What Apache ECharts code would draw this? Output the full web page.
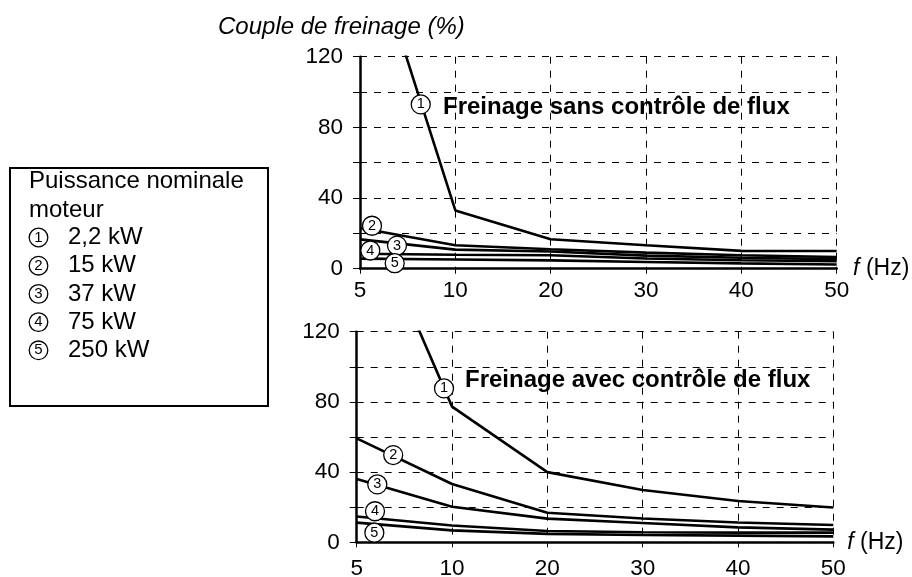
<!DOCTYPE html>
<html>
<head>
<meta charset="utf-8">
<script src="https://cdn.jsdelivr.net/npm/echarts@6/dist/echarts.min.js"></script>
<style>
  html, body { margin: 0; padding: 0; background: #fff; }
  #chart { width: 912px; height: 577px; }
</style>
</head>
<body>
<div id="chart"></div>
<script>
// Frequency points (Hz), evenly spaced on the horizontal axis
const freqTicks = [5, 10, 20, 30, 40, 50];

// Braking torque (%) without flux braking, one list per motor size
const sans1 = [202, 33, 16.7, 13.3, 10.1, 10];
const sans2 = [23, 13.3, 11, 9.1, 7.6, 6.6];
const sans3 = [16.6, 10.8, 9.7, 7.4, 6.2, 5.4];
const sans4 = [8.5, 7.9, 7.6, 5.8, 4.8, 4.2];
const sans5 = [5.7, 5.2, 4.7, 3.8, 3.0, 2.4];

// Braking torque (%) with flux braking
const avec1 = [203, 77.3, 40, 29.8, 23.5, 19.8];
const avec2 = [59.2, 33.2, 16.8, 13.6, 11.3, 9.9];
const avec3 = [36.1, 20.3, 13.5, 11.0, 8.5, 7.2];
const avec4 = [14.7, 9.6, 6.4, 5.7, 5.5, 5.5];
const avec5 = [11.2, 6.8, 4.8, 4.2, 3.8, 3.4];

// Curve numbers placed along the curves: [frequency position, torque, number]
const tagsSans = [[0.637, 93, 1], [0.126, 24.3, 2], [0.388, 13.1, 3], [0.108, 10.3, 4], [0.364, 3.1, 5]];
const tagsAvec = [[0.916, 87.7, 1], [0.383, 49.7, 2], [0.216, 33, 3], [0.192, 17.7, 4], [0.185, 5.5, 5]];

// Legend entries
const powerLabels = ['2,2 kW', '15 kW', '37 kW', '75 kW', '250 kW'];
const yTicks = [0, 40, 80, 120];

const FONT = '"Liberation Sans", Arial, Helvetica, sans-serif';

function toPoints(vals) {
  return vals.map((v, i) => [i, v]);
}

function makeXAxis(gridIndex, labelMargin) {
  return {
    type: 'value', gridIndex,
    min: 0, max: freqTicks.length - 1, interval: 1,
    axisLine: { onZero: false, lineStyle: { color: '#000', width: 2.5 } },
    axisTick: { show: true, length: 5, lineStyle: { color: '#000', width: 1 } },
    axisLabel: {
      margin: labelMargin, color: '#000', fontSize: 22.5, fontFamily: FONT,
      formatter: v => (freqTicks[v] !== undefined ? String(freqTicks[v]) : '')
    },
    splitLine: { show: true, lineStyle: { color: '#000', width: 1, type: [7, 7] } },
    name: '{i|f} (Hz)',
    nameLocation: 'end', nameGap: 14,
    nameTextStyle: {
      color: '#000', fontSize: 23, fontFamily: FONT,
      rich: { i: { fontStyle: 'italic', fontSize: 23, fontFamily: FONT, color: '#000' } }
    }
  };
}

function makeYAxis(gridIndex) {
  return {
    type: 'value', gridIndex,
    min: 0, max: 120, interval: 20,
    axisLine: { onZero: false, lineStyle: { color: '#000', width: 2.5 } },
    axisTick: { show: true, length: 7, lineStyle: { color: '#000', width: 1 } },
    axisLabel: {
      margin: 17, color: '#000', fontSize: 22.5, fontFamily: FONT,
      formatter: v => (yTicks.indexOf(v) >= 0 ? String(v) : '')
    },
    splitLine: { show: true, lineStyle: { color: '#000', width: 1, type: [7, 7] } }
  };
}

function curveSeries(vals, idx) {
  return {
    type: 'line', xAxisIndex: idx, yAxisIndex: idx,
    data: toPoints(vals), symbol: 'none', clip: true, silent: true,
    lineStyle: { color: '#000', width: 2.6 }, z: 3
  };
}

function tagSeries(tags, idx) {
  return {
    type: 'scatter', xAxisIndex: idx, yAxisIndex: idx,
    data: tags, symbol: 'circle', symbolSize: 19, silent: true, z: 5,
    itemStyle: { color: '#fff', borderColor: '#000', borderWidth: 1.3, opacity: 1 },
    label: {
      show: true, position: 'inside', color: '#000', fontSize: 14.5, fontFamily: FONT,
      formatter: p => String(p.value[2])
    }
  };
}

const series = [];
[sans1, sans2, sans3, sans4, sans5].forEach(v => series.push(curveSeries(v, 0)));
[avec1, avec2, avec3, avec4, avec5].forEach(v => series.push(curveSeries(v, 1)));
series.push(tagSeries(tagsSans, 0));
series.push(tagSeries(tagsAvec, 1));

// Legend box: heading plus numbered motor sizes
const legendGraphics = [
  { type: 'rect', shape: { x: 10, y: 168, width: 258, height: 238 },
    style: { fill: 'none', stroke: '#000', lineWidth: 2 } },
  { type: 'text', x: 29, y: 181,
    style: { text: 'Puissance nominale', font: '24px ' + FONT, fill: '#000',
      textVerticalAlign: 'middle', verticalAlign: 'middle' } },
  { type: 'text', x: 29, y: 210,
    style: { text: 'moteur', font: '24px ' + FONT, fill: '#000',
      textVerticalAlign: 'middle', verticalAlign: 'middle' } }
];
powerLabels.forEach((lbl, i) => {
  const cy = 237.5 + i * 28.2;
  legendGraphics.push({ type: 'circle', shape: { cx: 38.5, cy, r: 9.3 },
    style: { fill: '#fff', stroke: '#000', lineWidth: 1.3 } });
  legendGraphics.push({ type: 'text', x: 38.5, y: cy,
    style: { text: String(i + 1), font: '15px ' + FONT, fill: '#000',
      textAlign: 'center', align: 'center', textVerticalAlign: 'middle', verticalAlign: 'middle' } });
  legendGraphics.push({ type: 'text', x: 68, y: cy,
    style: { text: lbl, font: '24px ' + FONT, fill: '#000',
      textVerticalAlign: 'middle', verticalAlign: 'middle' } });
});

const chart = echarts.init(document.getElementById('chart'), null, { renderer: 'canvas' });
chart.setOption({
  backgroundColor: '#fff',
  animation: false,
  grid: [
    { left: 360, top: 56.7, width: 476.7, height: 212, outerBoundsMode: 'none', containLabel: false },
    { left: 356.7, top: 331.7, width: 476.6, height: 210.6, outerBoundsMode: 'none', containLabel: false }
  ],
  xAxis: [makeXAxis(0, 11), makeXAxis(1, 15)],
  yAxis: [makeYAxis(0), makeYAxis(1)],
  series,
  graphic: [
    { type: 'text', x: 218, y: 27,
      style: { text: 'Couple de freinage (%)', font: 'italic 24px ' + FONT, fill: '#000',
        textVerticalAlign: 'middle', verticalAlign: 'middle' } },
    { type: 'text', x: 443, y: 107, z: 10,
      style: { text: 'Freinage sans contrôle de flux', font: 'bold 24px ' + FONT, fill: '#000',
        textVerticalAlign: 'middle', verticalAlign: 'middle' } },
    { type: 'text', x: 465, y: 380, z: 10,
      style: { text: 'Freinage avec contrôle de flux', font: 'bold 24px ' + FONT, fill: '#000',
        textVerticalAlign: 'middle', verticalAlign: 'middle' } },
    ...legendGraphics
  ]
});
</script>
</body>
</html>
